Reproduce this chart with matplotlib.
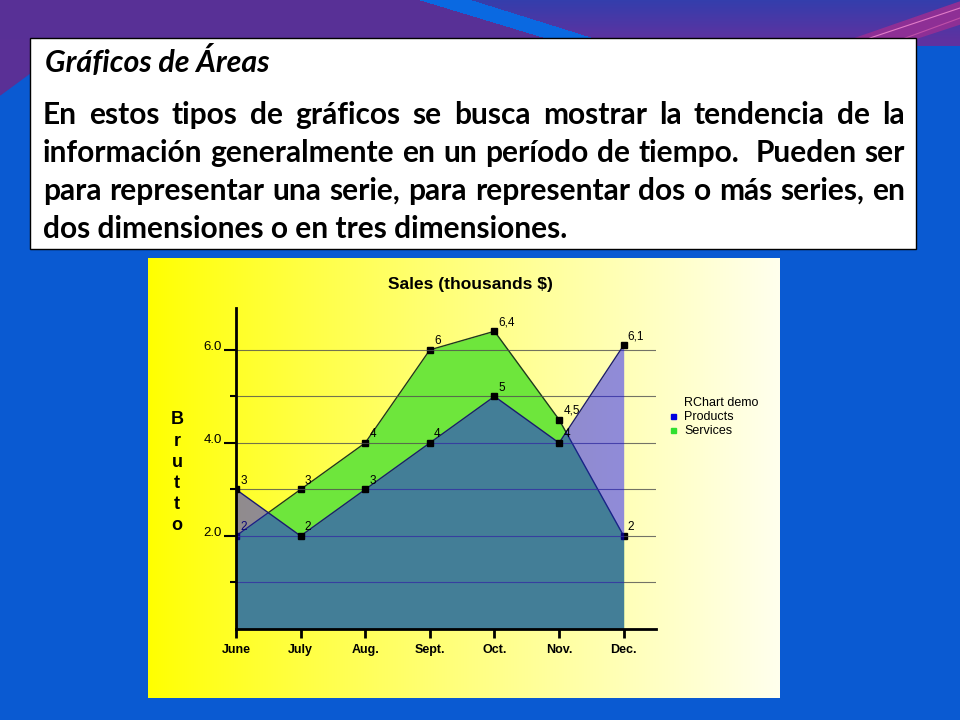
import numpy as np
import matplotlib
matplotlib.use('Agg')
import matplotlib.pyplot as plt
from matplotlib.patches import Rectangle, Polygon

# datos del grafico
months = ['June', 'July', 'Aug.', 'Sept.', 'Oct.', 'Nov.', 'Dec.']
products = [3, 2, 3, 4, 5, 4, 6.1]
services = [2, 3, 4, 6, 6.4, 4.5, 2]
y_ticks = [1, 2, 3, 4, 5, 6]
y_tick_labels = ['', '2.0', '', '4.0', '', '6.0']

chart_title = 'Sales (thousands $)'
y_label = 'Brutto'
legend_title = 'RChart demo'
series_names = ['Products', 'Services']

slide_title = 'Gráficos de Áreas'
body_lines = [
    'En estos tipos de gráficos se busca mostrar la tendencia de la',
    'información generalmente en un período de tiempo.  Pueden ser',
    'para representar una serie, para representar dos o más series, en',
    'dos dimensiones o en tres dimensiones.',
]

chart_font = 'Liberation Sans'
slide_font = 'Lato'

fig = plt.figure(figsize=(9.6, 7.2), dpi=100)

# eje de fondo en pixeles
bg = fig.add_axes([0, 0, 1, 1])
bg.set_xlim(0, 960)
bg.set_ylim(720, 0)
bg.axis('off')

# fondo azul de la diapositiva
bg.add_patch(Rectangle((0, 0), 960, 720, color='#0a5ad2', zorder=0))

# banda superior morada con la franja azul
H, W = 46, 960
yy, xx = np.mgrid[0:H, 0:W]
band = np.zeros((H, W, 4))
purple = np.array([88, 48, 150]) / 255
stripe = np.array([10, 105, 225]) / 255
top_r = np.array([52, 62, 172]) / 255
bot_r = np.array([95, 50, 160]) / 255
e1 = 420 + 3.3 * yy
e2 = 472 + 3.2 * yy
t = (yy / 40.0).clip(0, 1)[..., None]
right_col = top_r * (1 - t) + bot_r * t
band[..., :3] = right_col
band[xx < e2] = np.append(stripe, 1)
band[xx < e1] = np.append(purple, 1)
band[..., 3] = 1
bg.imshow(band, extent=[0, 960, H, 0], aspect='auto', zorder=1, interpolation='bilinear')
bg.add_patch(Polygon([(0, 40), (34, 40), (34, 70), (0, 95)], color='#5a3096', zorder=1))
bg.add_patch(Polygon([(845, 42), (960, 2), (960, 24), (905, 42)], color='#8e2f95', zorder=1.2))
bg.plot([870, 960], [38, 8], color='#e27cc8', lw=0.8, zorder=1.3)
bg.plot([900, 960], [40, 18], color='#c050a8', lw=0.8, zorder=1.3)

# cuadro de texto
bg.add_patch(Rectangle((30, 38), 886, 211, facecolor='white', edgecolor='black', lw=1, zorder=2))

fig.canvas.draw()
renderer = fig.canvas.get_renderer()


def text_width(s, **kw):
    tx = bg.text(0, 0, s, **kw)
    w = tx.get_window_extent(renderer=renderer).width
    tx.remove()
    return w


body_kw = dict(family=slide_font, weight='bold')
title_kw = dict(family=slide_font, weight='bold', style='italic')
body_size = 20 * 524 / text_width(body_lines[-1], fontsize=20, **body_kw)
title_size = 20 * 224 / text_width(slide_title, fontsize=20, **title_kw)

bg.text(45, 72, slide_title, fontsize=title_size, va='baseline', ha='left', zorder=3, **title_kw)

left, right = 43, 905
baselines = [124, 162, 200, 238]
for i, line in enumerate(body_lines):
    y = baselines[i]
    if i == len(body_lines) - 1:
        bg.text(left, y, line, fontsize=body_size, va='baseline', ha='left', zorder=3, **body_kw)
        continue
    words = line.split(' ')
    widths = [text_width(w, fontsize=body_size, **body_kw) if w else 0 for w in words]
    gap = (right - left - sum(widths)) / (len(words) - 1)
    x = left
    for w, wd in zip(words, widths):
        if w:
            bg.text(x, y, w, fontsize=body_size, va='baseline', ha='left', zorder=3, **body_kw)
        x += wd + gap

# fondo degradado del grafico
g = np.linspace(0, 1, 500)
grad = np.ones((1, 500, 3))
grad[0, :, 2] = 0.93 * g ** 0.9
bg.imshow(grad, extent=[148, 780, 698, 258], aspect='auto', zorder=2)

# textos del grafico
bg.text(470, 285, chart_title, fontsize=12.5, weight='bold', family=chart_font,
        ha='center', va='center', zorder=3)
for i, ch in enumerate(y_label):
    bg.text(177, 420 + i * 21.2, ch, fontsize=13, weight='bold', family=chart_font,
            ha='center', va='center', zorder=3)

# leyenda
bg.text(684, 403, legend_title, fontsize=9, family=chart_font, ha='left', va='center', zorder=3)
bg.add_patch(Rectangle((671, 414), 5, 5, color='#0000e0', zorder=3))
bg.text(684, 417, series_names[0], fontsize=9, family=chart_font, ha='left', va='center', zorder=3)
bg.add_patch(Rectangle((671, 428), 5, 5, color='#30e030', zorder=3))
bg.text(684, 431, series_names[1], fontsize=9, family=chart_font, ha='left', va='center', zorder=3)

# grafico de areas
ax = fig.add_axes([236 / 960, 1 - 629 / 720, (656 - 236) / 960, (629 - 308) / 720])
ax.patch.set_visible(False)
x = np.arange(len(months))
ax.set_xlim(0, 6.5)
ax.set_ylim(0, 6.9)


def fmt(v):
    return f'{v:g}'.replace('.', ',')


# servicios (verde, debajo)
ax.fill_between(x, 0, services, color='#6ee63c', lw=0, zorder=1)
ax.plot(x, services, color='#1e3a1e', lw=1, zorder=1.1)
ax.plot(x, services, 's', color='black', ms=4.5, zorder=1.2)
for xi, v in zip(x, services):
    ax.annotate(fmt(v), (xi, v), xytext=(3, 2), textcoords='offset points',
                fontsize=8.5, family=chart_font, ha='left', va='bottom', zorder=1.3)

# lineas de la cuadricula
for yv in y_ticks:
    ax.axhline(yv, color='#505050', lw=0.8, alpha=0.8, zorder=1.5)

# productos (azul translucido, encima)
ax.fill_between(x, 0, products, color='#140aff', alpha=0.47, lw=0, zorder=2)
ax.plot(x, products, color='#1a1a70', lw=1, zorder=2.1)
ax.plot(x, products, 's', color='black', ms=4.5, zorder=2.2)
for xi, v in zip(x, products):
    ax.annotate(fmt(v), (xi, v), xytext=(3, 2), textcoords='offset points',
                fontsize=8.5, family=chart_font, ha='left', va='bottom', zorder=2.3)

for s in ['top', 'right']:
    ax.spines[s].set_visible(False)
for s in ['left', 'bottom']:
    ax.spines[s].set_linewidth(2)
    ax.spines[s].set_zorder(3)

ax.set_xticks(x)
ax.set_xticklabels(months, fontsize=9, weight='bold', family=chart_font)
ax.tick_params(axis='x', direction='out', length=6.5, width=2, pad=4)

ax.set_yticks([2, 4, 6])
ax.set_yticklabels([l for l in y_tick_labels if l], fontsize=9.5, family=chart_font)
ax.set_yticks([1, 3, 5], minor=True)
ax.tick_params(axis='y', which='major', direction='out', length=8.6, width=1.5, pad=1.5)
ax.tick_params(axis='y', which='minor', direction='out', length=4.3, width=1.5)
for lab in ax.get_yticklabels():
    lab.set_verticalalignment('baseline')

fig.savefig('out.png', dpi=100)
